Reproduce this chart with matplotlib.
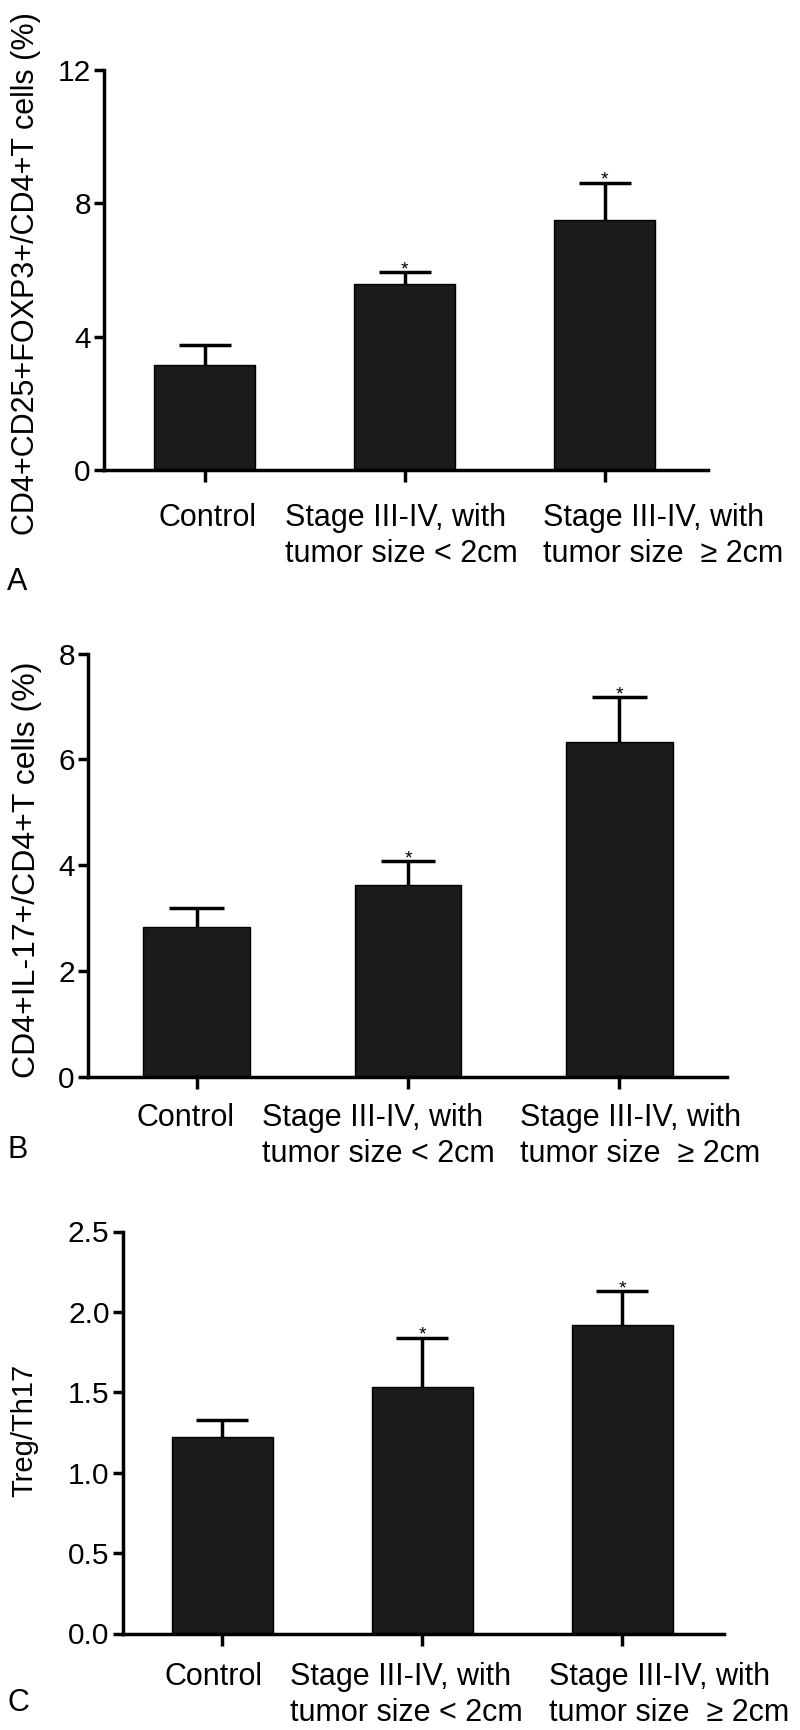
import matplotlib
matplotlib.use("Agg")
import matplotlib.pyplot as plt
import numpy as np

plt.rcParams['font.family'] = ['Liberation Sans', 'DejaVu Sans']

# ---------------- data ----------------
categories = ["Control",
              "Stage III-IV, with\ntumor size < 2cm",
              "Stage III-IV, with\ntumor size  \u2265 2cm"]

treg_mean = [3.15, 5.60, 7.50]
treg_err = [0.60, 0.35, 1.12]

th17_mean = [2.82, 3.62, 6.32]
th17_err = [0.37, 0.45, 0.85]

ratio_mean = [1.22, 1.53, 1.92]
ratio_err = [0.11, 0.31, 0.21]

significant = [False, True, True]

ylabel_a = "CD4+CD25+FOXP3+/CD4+T cells (%)"
ylabel_b = "CD4+IL-17+/CD4+T cells (%)"
ylabel_c = "Treg/Th17"

yticks_a = [0, 4, 8, 12]
yticks_b = [0, 2, 4, 6, 8]
yticks_c = [0.0, 0.5, 1.0, 1.5, 2.0, 2.5]
yticklabels_a = ["0", "4", "8", "12"]
yticklabels_b = ["0", "2", "4", "6", "8"]
yticklabels_c = ["0.0", "0.5", "1.0", "1.5", "2.0", "2.5"]

panel_letters = ["A", "B", "C"]

# ---------------- layout (pixels) ----------------
W, H = 800, 1730
fig = plt.figure(figsize=(W / 100, H / 100), dpi=100)
fig.patch.set_facecolor("white")


def px_rect(left, right, top, bottom):
    return [left / W, 1 - bottom / H, (right - left) / W, (bottom - top) / H]


panels = [
    dict(rect=px_rect(104, 708, 70, 470.5), xlim=(-0.5025, 2.515),
         mean=treg_mean, err=treg_err, yticks=yticks_a, ytl=yticklabels_a,
         ylabel=ylabel_a, ylab_xy=(26, 274), ylab_fs=22,
         letter_xy=(17.5, 582), lab_left=(158, 285, 543), lab_top=503),
    dict(rect=px_rect(88, 727, 653.5, 1076.5), xlim=(-0.515, 2.51),
         mean=th17_mean, err=th17_err, yticks=yticks_b, ytl=yticklabels_b,
         ylabel=ylabel_b, ylab_xy=(27, 870), ylab_fs=23,
         letter_xy=(18, 1150), lab_left=(136, 261.5, 520.5), lab_top=1103),
    dict(rect=px_rect(122.7, 724, 1231.5, 1633.5), xlim=(-0.499, 2.509),
         mean=ratio_mean, err=ratio_err, yticks=yticks_c, ytl=yticklabels_c,
         ylabel=ylabel_c, ylab_xy=(24, 1430), ylab_fs=21,
         letter_xy=(18, 1703), lab_left=(164, 290, 549), lab_top=1662),
]

bar_color = "#1b1b1b"
lw = 2.5
fs = 22

for p, letter in zip(panels, panel_letters):
    ax = fig.add_axes(p["rect"])
    x = np.arange(len(categories))
    mean = np.array(p["mean"])
    err = np.array(p["err"])
    ax.bar(x, mean, width=0.505, color=bar_color, edgecolor="black",
           linewidth=1.0, zorder=2)
    ax.vlines(x, mean, mean + err, color="black", linewidth=lw, zorder=3)
    ax.hlines(mean + err, x - 0.13, x + 0.13, color="black", linewidth=lw,
              zorder=3)
    for xi, top, sig in zip(x, mean + err, significant):
        if sig:
            ax.annotate("*", xy=(xi, top), xytext=(0, -1.5),
                        textcoords="offset points", ha="center",
                        va="baseline", fontsize=14)
    ax.set_xlim(*p["xlim"])
    ax.set_ylim(p["yticks"][0], p["yticks"][-1])
    ax.set_yticks(p["yticks"])
    ax.set_yticklabels(p["ytl"], fontsize=21.5)
    ax.set_xticks(x)
    ax.tick_params(axis="x", labelbottom=False)
    for s in ["top", "right"]:
        ax.spines[s].set_visible(False)
    for s in ["left", "bottom"]:
        ax.spines[s].set_linewidth(lw)
        ax.spines[s].set_capstyle("projecting")
    ax.tick_params(axis="y", direction="out", length=7.5, width=lw, pad=2)
    ax.tick_params(axis="x", direction="out", length=8.5, width=lw)

    # category labels (left-aligned blocks, as in the original figure)
    for lab, left in zip(categories, p["lab_left"]):
        fig.text(left / W, 1 - p["lab_top"] / H, lab, ha="left", va="top",
                 multialignment="left", linespacing=1.25, fontsize=fs)

    fig.text(p["ylab_xy"][0] / W, 1 - p["ylab_xy"][1] / H, p["ylabel"],
             rotation=90, ha="center", va="center", fontsize=p["ylab_fs"])
    fig.text(p["letter_xy"][0] / W, 1 - p["letter_xy"][1] / H, letter,
             ha="center", va="center", fontsize=fs)

fig.savefig("out.png", dpi=100, facecolor="white")
